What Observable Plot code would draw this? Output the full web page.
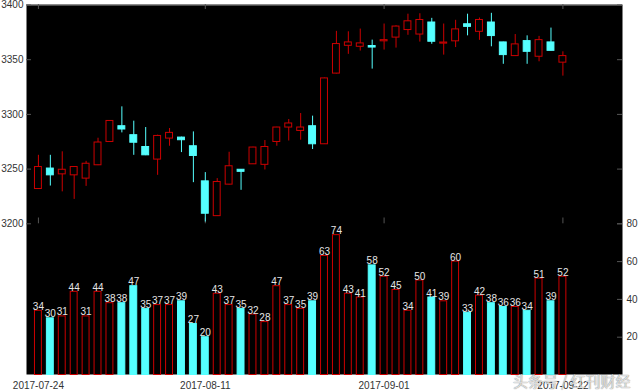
<!DOCTYPE html>
<html><head><meta charset="utf-8">
<script src="https://cdn.jsdelivr.net/npm/d3@7"></script>
<script src="https://cdn.jsdelivr.net/npm/@observablehq/plot@0.6"></script>
<style>
body{margin:0;background:#fff;}
#chart{position:relative;width:640px;height:392px;overflow:hidden;background:#fff;}
#chart svg{position:absolute;left:0;top:0;}
#wm{position:absolute;left:513px;top:370px;font:15px "Noto Sans CJK SC",sans-serif;color:rgba(255,255,255,0.75);text-shadow:0 0 1px rgba(0,0,0,0.45),0 0 1px rgba(0,0,0,0.3);white-space:nowrap;}
</style></head><body><div id="chart"></div>
<script>
const dates = ["2017-07-24","2017-07-25","2017-07-26","2017-07-27","2017-07-28",
  "2017-07-31","2017-08-01","2017-08-02","2017-08-03","2017-08-04",
  "2017-08-07","2017-08-08","2017-08-09","2017-08-10","2017-08-11",
  "2017-08-14","2017-08-15","2017-08-16","2017-08-17","2017-08-18",
  "2017-08-21","2017-08-22","2017-08-23","2017-08-24","2017-08-25",
  "2017-08-28","2017-08-29","2017-08-30","2017-08-31","2017-09-01",
  "2017-09-04","2017-09-05","2017-09-06","2017-09-07","2017-09-08",
  "2017-09-11","2017-09-12","2017-09-13","2017-09-14","2017-09-15",
  "2017-09-18","2017-09-19","2017-09-20","2017-09-21","2017-09-22"];
const open  = [3231.8,3250.5,3245.2,3244.3,3241.3,3253.5,3274.8,3289.2,3281.0,3270.2,
  3258.7,3277.9,3278.8,3270.9,3238.8,3207.0,3235.8,3249.4,3254.4,3253.9,
  3274.8,3288.0,3284.9,3289.2,3272.7,3337.3,3362.7,3361.8,3362.5,3366.8,
  3370.2,3377.1,3373.0,3384.0,3364.7,3366.8,3382.4,3375.5,3384.0,3365.8,
  3353.3,3367.0,3352.7,3365.8,3347.3];
const high  = [3262.6,3262.6,3265.8,3252.2,3257.1,3278.2,3294.3,3306.9,3293.8,3288.0,
  3281.0,3287.1,3279.2,3284.0,3246.8,3241.3,3265.4,3249.6,3270.0,3276.1,
  3288.2,3295.3,3300.8,3298.4,3333.2,3375.9,3375.5,3378.0,3367.9,3382.6,
  3381.0,3391.6,3392.0,3387.8,3382.6,3386.0,3391.6,3388.1,3392.4,3366.0,
  3373.0,3371.8,3371.3,3378.9,3357.2];
const low   = [3231.5,3234.5,3229.2,3222.3,3234.2,3253.2,3274.6,3283.1,3262.6,3262.3,
  3244.3,3270.9,3265.1,3237.6,3201.6,3206.8,3235.5,3230.6,3254.2,3249.2,
  3270.9,3275.7,3276.4,3267.9,3272.5,3337.0,3354.9,3357.9,3341.4,3358.8,
  3360.6,3372.3,3366.1,3364.1,3354.2,3361.1,3371.8,3367.7,3361.8,3345.8,
  3353.0,3345.8,3348.1,3358.0,3335.0];
const close = [3251.9,3244.3,3249.4,3251.9,3254.9,3274.3,3294.0,3286.2,3274.1,3262.6,
  3280.3,3283.1,3276.4,3262.0,3209.2,3238.2,3252.6,3247.5,3269.7,3270.2,
  3288.0,3291.7,3288.0,3272.7,3332.9,3364.3,3365.8,3364.9,3361.1,3367.9,
  3380.3,3385.1,3386.3,3366.4,3365.7,3377.7,3380.0,3386.3,3371.6,3354.2,
  3364.0,3357.2,3367.9,3358.1,3353.3];
const volume = [34,30,31,44,31,44,38,38,47,35,37,37,39,27,20,
  43,37,35,32,28,47,37,35,39,63,74,43,41,58,52,45,34,50,
  41,39,60,33,42,38,36,36,34,51,39,52];
const tickDates = ["2017-07-24","2017-08-11","2017-09-01","2017-09-22"];
const priceTicks = [3200,3250,3300,3350,3400];
const volumeTicks = [20,40,60,80];

const rows = dates.map((date,i)=>({i,date,open:open[i],high:high[i],low:low[i],close:close[i],volume:volume[i],up:close[i]>=open[i]}));
const tickIdx = tickDates.map(d=>dates.indexOf(d));
const RED="#cc0000", CYAN="#55ffff", TXT="#333";
const W=640,H=392,mL=26,mR=18,mT=4,mB=18;
const half=0.29;
const font = {background:"transparent",fontFamily:"'Liberation Sans', Arial, sans-serif",fontSize:"10px"};

const price = Plot.plot({
  width:W,height:H,marginLeft:mL,marginRight:mR,marginTop:mT,marginBottom:mB,
  style:font,
  x:{type:"linear",domain:[-1,49],axis:null},
  y:{domain:[3200,3400],range:[223.3,4.5]},
  color:{type:"identity"},
  marks:[
    Plot.frame({fill:"black",stroke:null}),
    Plot.ruleY([3400],{stroke:"#9a9a9a"}),
    Plot.ruleY(priceTicks,{stroke:"#555",insetRight:W-mL-mR-5}),
    Plot.ruleY(priceTicks,{stroke:"#555",insetLeft:W-mL-mR-5}),
    Plot.ruleX(tickIdx,{x:d=>d,stroke:"#555",insetBottom:H-mT-mB-5}),
    Plot.ruleX(tickIdx,{x:d=>d,y1:3400,y2:3200,stroke:"#555",insetTop:213}),
    Plot.axisY({ticks:priceTicks,anchor:"left",tickSize:0,tickPadding:3,tickFormat:d=>String(d),color:TXT,label:null}),
    Plot.ruleX(rows,{x:"i",y1:"low",y2:"high",stroke:d=>d.up?RED:CYAN,strokeWidth:1}),
    Plot.rect(rows,{x1:d=>d.i-half,x2:d=>d.i+half,y1:"open",y2:"close",
      fill:d=>d.up?"black":CYAN,stroke:d=>d.up?RED:CYAN,strokeWidth:1})
  ]
});

const vol = Plot.plot({
  width:W,height:H,marginLeft:mL,marginRight:mR,marginTop:mT,marginBottom:mB,
  style:font,
  x:{type:"linear",domain:[-1,49]},
  y:{domain:[0,80],range:[374.5,223.3]},
  color:{type:"identity"},
  marks:[
    Plot.rect(rows,{x1:d=>d.i-half,x2:d=>d.i+half,y1:0,y2:"volume",
      fill:d=>d.up?"black":CYAN,stroke:d=>d.up?RED:CYAN,strokeWidth:1}),
    Plot.text(rows,{x:"i",y:"volume",text:d=>String(d.volume),lineAnchor:"bottom",dy:-1,fill:"#e6e6e6",fontSize:10}),
    Plot.ruleY(volumeTicks,{stroke:"#555",insetLeft:W-mL-mR-5}),
    Plot.axisY({ticks:volumeTicks,anchor:"right",tickSize:0,tickPadding:4,tickFormat:d=>String(d),color:TXT,label:null}),
    Plot.axisX({ticks:tickIdx,anchor:"bottom",tickSize:0,tickPadding:7,tickFormat:i=>dates[i],color:TXT,label:null})
  ]
});

const chart = document.getElementById("chart");
chart.appendChild(price);
chart.appendChild(vol);
const wm = document.createElement("div");
wm.id="wm"; wm.textContent="头条号 / 红刊财经";
chart.appendChild(wm);
</script>
</body></html>
